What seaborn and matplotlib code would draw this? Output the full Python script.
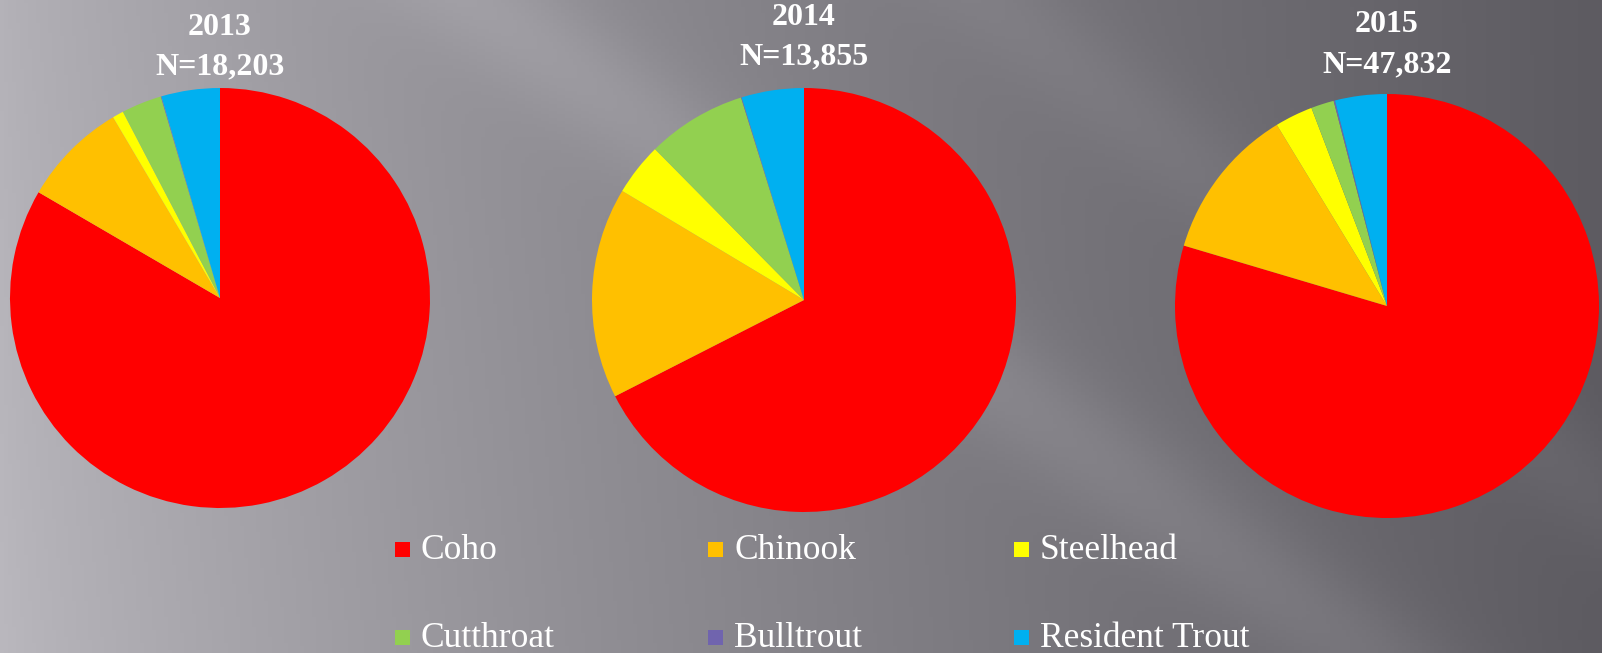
import numpy as np
import matplotlib
matplotlib.use("Agg")
import matplotlib.pyplot as plt
from matplotlib.patches import Rectangle
import seaborn as sns

# ---- data (percent of catch) ----
species = ["Coho", "Chinook", "Steelhead", "Cutthroat", "Bulltrout", "Resident Trout"]
years = ["2013", "2014", "2015"]
totals = ["18,203", "13,855", "47,832"]
share_2013 = [83.4, 8.1, 0.85, 3.1, 0.05, 4.5]
share_2014 = [67.5, 16.1, 4.0, 7.6, 0.05, 4.75]
share_2015 = [79.6, 11.7, 2.9, 1.75, 0.1, 3.95]
colors = ["#FF0000", "#FFC000", "#FFFF00", "#92D050", "#7064AE", "#00B0F0"]

sns.set_theme(style="white")
plt.rcParams["font.family"] = ["Liberation Serif", "DejaVu Serif"]

W, H = 1602, 653
fig = plt.figure(figsize=(W / 100, H / 100), dpi=100)

# background gradient
bg = fig.add_axes([0, 0, 1, 1])
xx, yy = np.meshgrid(np.linspace(0, 1, 400), np.linspace(0, 1, 200))
base = 180 - 87 * xx ** 0.8 + 6 * yy * (1 - xx)
band = 14 * np.exp(-(((xx * 1.0 - yy * 0.55) - 0.30) / 0.06) ** 2)
band2 = 8 * np.exp(-(((xx * 1.0 - yy * 0.5) - 0.62) / 0.05) ** 2)
g = base + band + band2
img = np.stack([g, g - 2, g + 4], axis=-1) / 255.0
bg.imshow(np.clip(img, 0, 1), extent=[0, 1, 0, 1], aspect="auto", origin="upper")
bg.axis("off")

# (values, centre x, centre y, radius, baseline of year, baseline of N)
pies = [
    (share_2013, 220, 298, 210, 35, 74),
    (share_2014, 804, 300, 212, 25, 64),
    (share_2015, 1387, 306, 212, 32, 72),
]
for i, (vals, cx, cy, r, ty1, ty2) in enumerate(pies):
    ax = fig.add_axes([(cx - r) / W, (H - cy - r) / H, 2 * r / W, 2 * r / H])
    ax.pie(vals, colors=colors, startangle=90, counterclock=False, radius=1,
           wedgeprops=dict(linewidth=0))
    ax.set_xlim(-1, 1)
    ax.set_ylim(-1, 1)
    ax.axis("off")
    fig.text(cx / W, 1 - ty1 / H, years[i], ha="center", va="baseline",
             color="white", fontsize=23, fontweight="bold")
    fig.text(cx / W, 1 - ty2 / H, "N=" + totals[i], ha="center", va="baseline",
             color="white", fontsize=23, fontweight="bold")

# legend (3 columns x 2 rows)
col_x = [395, 708, 1014]
row_y = [549, 637]
sq = 15
for k, (name, col) in enumerate(zip(species, colors)):
    x = col_x[k % 3]
    y = row_y[k // 3]
    fig.patches.append(Rectangle((x / W, 1 - (y + sq / 2) / H), sq / W, sq / H,
                                 transform=fig.transFigure, facecolor=col,
                                 edgecolor="none"))
    fig.text((x + sq + 11) / W, 1 - (y + 10) / H, name, ha="left", va="baseline",
             color="white", fontsize=25.5)

fig.savefig("out.png", dpi=100)
